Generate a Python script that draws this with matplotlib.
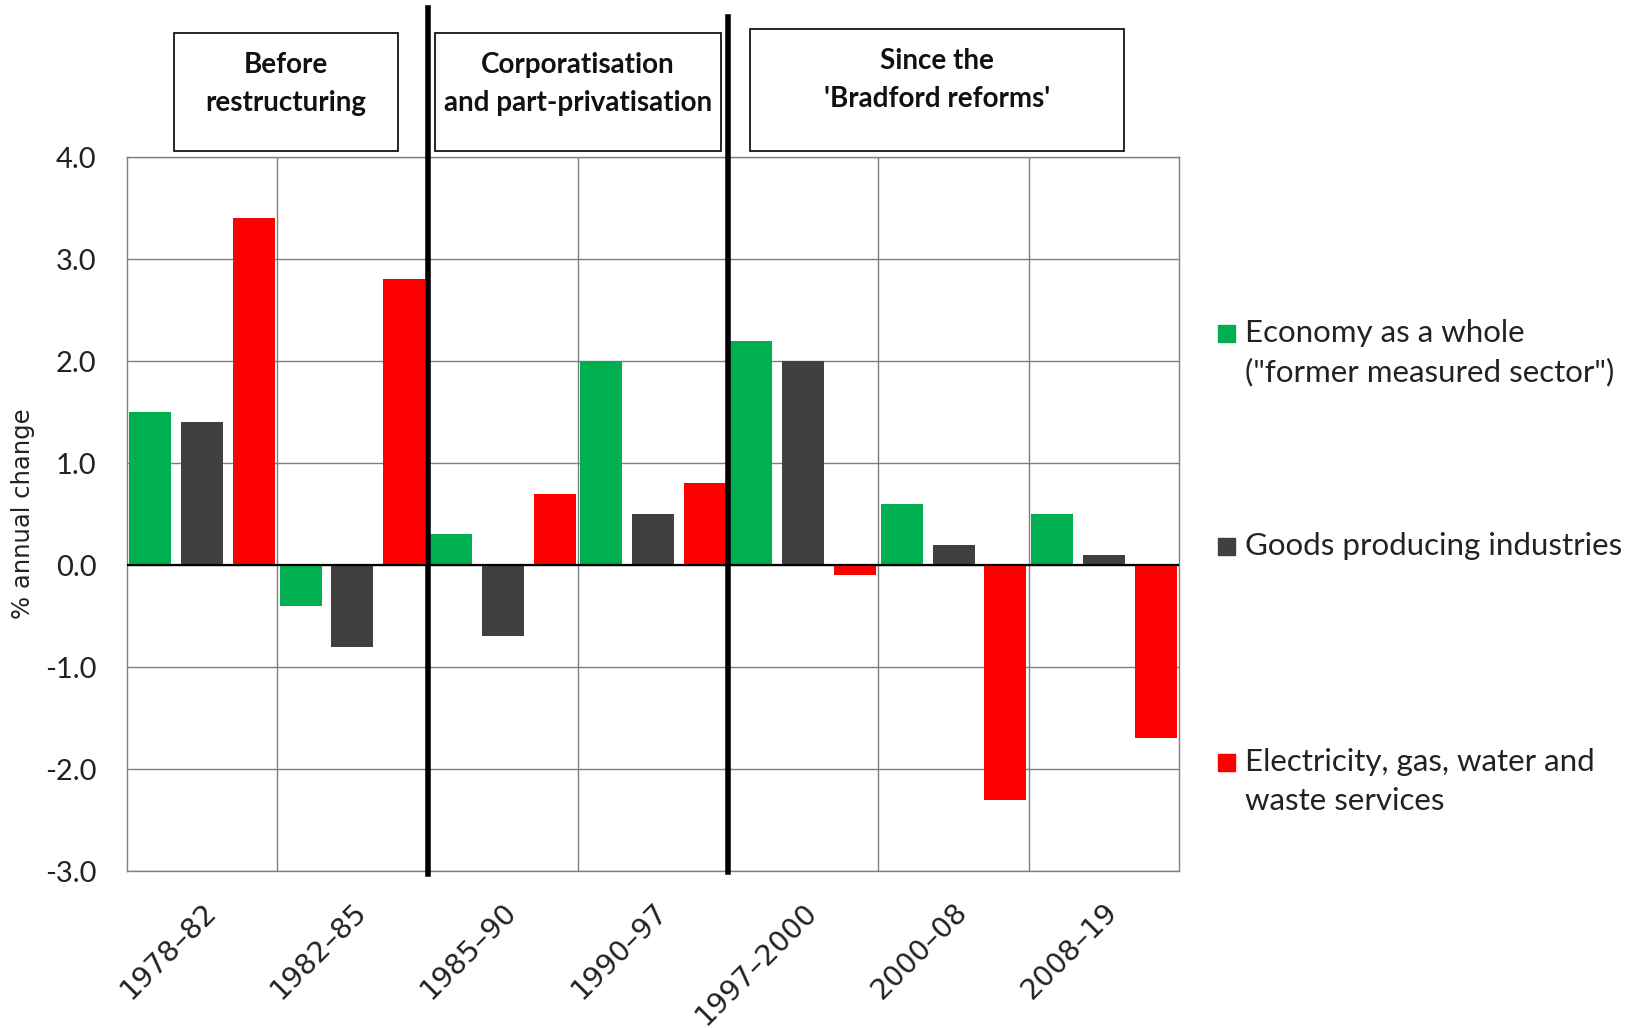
import numpy as np
import matplotlib
matplotlib.use("Agg")
import matplotlib.pyplot as plt
from matplotlib.patches import Rectangle
from matplotlib.lines import Line2D
from matplotlib.transforms import blended_transform_factory, offset_copy

plt.rcParams['axes.unicode_minus'] = False

categories = ['1978–82', '1982–85', '1985–90', '1990–97', '1997–2000', '2000–08', '2008–19']
economy = [1.5, -0.4, 0.3, 2.0, 2.2, 0.6, 0.5]
goods = [1.4, -0.8, -0.7, 0.5, 2.0, 0.2, 0.1]
utilities = [3.4, 2.8, 0.7, 0.8, -0.1, -2.3, -1.7]
series_labels = ['Economy as a whole\n("former measured sector")',
                 'Goods producing industries',
                 'Electricity, gas, water and\nwaste services']
colors = ['#00B050', '#404040', '#FF0000']
period_labels = ['Before\nrestructuring', 'Corporatisation\nand part-privatisation',
                 "Since the\n'Bradford reforms'"]
yticks = [-3.0, -2.0, -1.0, 0.0, 1.0, 2.0, 3.0, 4.0]

W, H = 1632, 1028
fig = plt.figure(figsize=(W / 100, H / 100), dpi=100)

def fx(px):
    return px / W

def fy(py):
    return 1 - py / H

AX_L, AX_R, AX_T, AX_B = 127, 1179, 157, 871
ax = fig.add_axes([fx(AX_L), fy(AX_B), fx(AX_R) - fx(AX_L), fy(AX_T) - fy(AX_B)])

x = np.arange(len(categories))
offsets = [-0.345, 0.0, 0.345]
width = 0.28
for vals, off, c in zip([economy, goods, utilities], offsets, colors):
    ax.bar(x + off, vals, width=width, color=c, zorder=3)

ax.set_xlim(-0.5, len(categories) - 0.5)
ax.set_ylim(-3.0, 4.0)
ax.set_yticks(yticks)
ax.set_yticklabels([f'{v:.1f}' for v in yticks], fontsize=21, family='Lato', color='#222222')
ax.set_xticks(x)
ax.set_xticklabels(categories, rotation=45, ha='right', rotation_mode='anchor',
                   fontsize=20.5, family='DejaVu Sans', color='#222222')
for lbl in ax.get_xticklabels():
    lbl.set_transform(offset_copy(lbl.get_transform(), fig=fig, x=-4, y=0, units='dots'))
ax.set_xticks(np.arange(0.5, len(categories) - 1, 1.0), minor=True)
ax.tick_params(axis='both', which='both', length=0)
ax.tick_params(axis='x', which='major', pad=19)
ax.tick_params(axis='y', pad=22)
ax.grid(True, axis='y', which='major', color='#7f7f7f', linewidth=1.0, zorder=0)
ax.grid(True, axis='x', which='minor', color='#7f7f7f', linewidth=1.0, zorder=0)
ax.axhline(0, color='black', linewidth=1.6, zorder=4)
for s in ax.spines.values():
    s.set_color('#7f7f7f')
    s.set_linewidth(1.0)

ax.set_ylabel('% annual change', fontsize=17.5, family='DejaVu Sans', color='#222222')
ax.yaxis.set_label_coords((35 - AX_L) / (AX_R - AX_L), 0.5)

# vertical period separators
tr = blended_transform_factory(ax.transData, fig.transFigure)
ax.add_line(Line2D([1.5, 1.5], [fy(8), fy(874)], transform=tr, color='black',
                   linewidth=4, clip_on=False, zorder=6))
ax.add_line(Line2D([3.5, 3.5], [fy(17), fy(872)], transform=tr, color='black',
                   linewidth=4, clip_on=False, zorder=6))

# period boxes
boxes = [(174, 33, 398, 151), (435, 33, 721, 151), (750, 29, 1124, 151)]
text_y = [84, 84, 80]
for (x0, y0, x1, y1), lab, ty in zip(boxes, period_labels, text_y):
    fig.patches.append(Rectangle((fx(x0), fy(y1)), fx(x1) - fx(x0), fy(y0) - fy(y1),
                                 transform=fig.transFigure, fill=False,
                                 edgecolor='black', linewidth=1.2))
    fig.text(fx((x0 + x1) / 2), fy(ty), lab, ha='center', va='center',
             fontsize=20, fontweight='bold', family='Lato', linespacing=1.58,
             color='#111111')

# legend
leg_items = [(333, 353, series_labels[0]), (546, 546, series_labels[1]),
             (762, 781.5, series_labels[2])]
for (ysq, yc, lab), c in zip(leg_items, colors):
    fig.patches.append(Rectangle((fx(1218), fy(ysq + 9)), fx(17), 17 / H,
                                 transform=fig.transFigure, color=c))
    fig.text(fx(1245), fy(yc), lab, ha='left', va='center', fontsize=22.5,
             family='Lato', color='#222222', linespacing=1.45)

fig.savefig('out.png', dpi=100, facecolor='white')
